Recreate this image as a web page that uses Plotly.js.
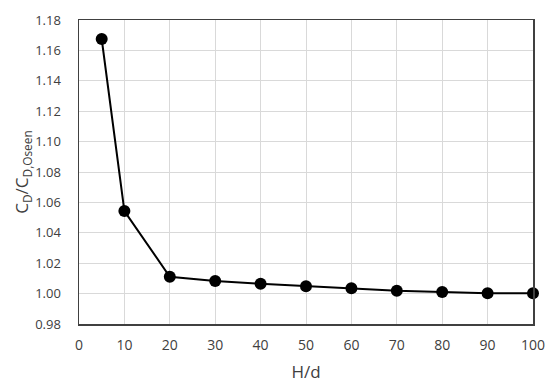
<!DOCTYPE html>
<html>
<head>
<meta charset="utf-8">
<script src="https://cdn.plot.ly/plotly-3.0.1.min.js"></script>
<style>html,body{margin:0;padding:0;background:#fff;}#chart{width:550px;height:386px;}</style>
</head>
<body>
<div id="chart"></div>
<script>
var hd = [5, 10, 20, 30, 40, 50, 60, 70, 80, 90, 100];
var ratio = [1.1675, 1.0543, 1.0111, 1.0083, 1.0065, 1.0048, 1.0035, 1.0018, 1.0011, 1.0002, 1.0002];
var xTicks = [0, 10, 20, 30, 40, 50, 60, 70, 80, 90, 100];
var yTicks = [0.98, 1.00, 1.02, 1.04, 1.06, 1.08, 1.10, 1.12, 1.14, 1.16, 1.18];

var trace = {
  x: hd, y: ratio, type: 'scatter', mode: 'lines+markers',
  line: {color: '#000000', width: 2},
  marker: {color: '#000000', size: 12},
  cliponaxis: false
};
var fam = 'Open Sans, Liberation Sans, sans-serif';
var layout = {
  width: 550, height: 386,
  margin: {l: 79, r: 17, t: 20, b: 62},
  paper_bgcolor: '#ffffff', plot_bgcolor: '#ffffff',
  showlegend: false,
  font: {family: fam, color: '#404040'},
  xaxis: {
    range: [0, 100], tickvals: xTicks, ticktext: xTicks.map(String),
    showgrid: true, gridcolor: '#d9d9d9', gridwidth: 1,
    zeroline: false, showline: true, linecolor: '#404040', linewidth: 1.5, mirror: true,
    ticks: '', ticklabelstandoff: 8,
    tickfont: {size: 14, color: '#404040', family: fam},
    title: {text: 'H/d', font: {size: 17, color: '#404040', family: fam}, standoff: 13}
  },
  yaxis: {
    range: [0.98, 1.18], tickvals: yTicks, ticktext: yTicks.map(function(v){return v.toFixed(2);}),
    showgrid: true, gridcolor: '#d9d9d9', gridwidth: 1,
    zeroline: false, showline: true, linecolor: '#404040', linewidth: 1.5, mirror: true,
    ticks: '', ticklabelstandoff: 14,
    tickfont: {size: 13, color: '#404040', family: fam},
    title: {text: 'C<sub>D</sub>/C<sub>D,Oseen</sub>', font: {size: 17, color: '#404040', family: fam}, standoff: 2}
  }
};
Plotly.newPlot('chart', [trace], layout, {displayModeBar: false, staticPlot: true});
</script>
</body>
</html>
